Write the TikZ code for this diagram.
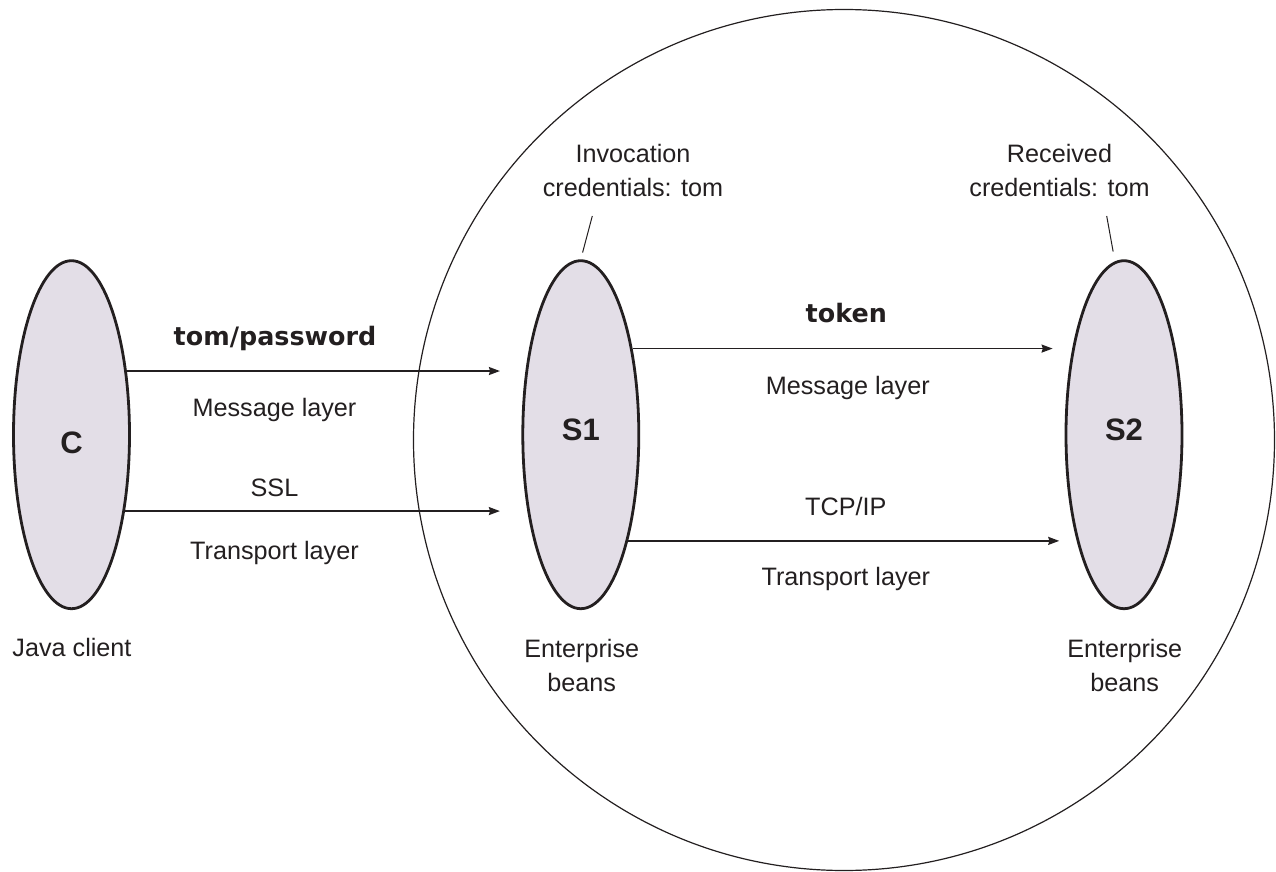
\documentclass[tikz,border=0pt]{standalone}
\usepackage{fontspec}
\setmainfont{Liberation Sans}
\newfontfamily\heavy{DejaVu Sans}
\usetikzlibrary{shapes.geometric,arrows.meta}
\definecolor{ink}{RGB}{35,31,32}
\definecolor{beanfill}{RGB}{227,222,231}

\begin{document}
\begin{tikzpicture}
[x=0.5pt,y=-0.5pt,every node/.style={text=ink,inner sep=0pt},
bean/.style={ellipse,draw=ink,fill=beanfill,line width=1.4pt,minimum width=58pt,minimum height=174pt,font=\fontsize{15.5}{18}\selectfont\bfseries,text height=6pt,text depth=0pt},
txt/.style={font=\fontsize{12.6}{17}\selectfont,anchor=base},
two/.style={font=\fontsize{12.6}{17}\selectfont,align=center,anchor=north},
heavytxt/.style={font=\fontsize{12.7}{15}\heavy\bfseries,anchor=base},
flow/.style={draw=ink,line width=0.8pt,-{Stealth[length=5.5pt,width=4pt,inset=0.6pt]}},
pointer/.style={draw=ink,line width=0.5pt}]
\useasboundingbox (0,0) rectangle (1276,872);
\node[draw=ink,line width=0.6pt,circle,minimum size=430.5pt] (zone) at (844,440) {};
\node[bean,text height=18.3pt] (c) at (71.5,434.7) {C};
\node[bean] (s1) at (580.8,434.7) {S1};
\node[bean] (s2) at (1124,434.7) {S2};
\node[heavytxt] (pwd) at (275,345) {tom/password};
\node[txt] (msgA) at (274.5,416.7) {Message layer};
\node[txt] (ssl) at (274.5,496.7) {SSL};
\node[txt] (trA) at (274.5,559.3) {Transport layer};
\node[txt] (java) at (72,656.7) {Java client};
\node[heavytxt] (tok) at (846.3,322.3) {token};
\node[txt] (msgB) at (847.8,394) {Message layer};
\node[txt] (tcp) at (845.8,515.7) {TCP/IP};
\node[txt] (trB) at (845.8,585) {Transport layer};
\node[two] (inv) at (633,144.3) {Invocation\\credentials: tom};
\node[two] (rec) at (1059.5,143.7) {Received\\credentials: tom};
\node[two] (ebA) at (581.7,639.3) {Enterprise\\beans};
\node[two] (ebB) at (1124.7,639.3) {Enterprise\\beans};
\coordinate (invtip) at (592.3,216);
\coordinate (rectip) at (1106.7,216);
\draw[pointer,shorten <=3.5pt] (s1.north) -- (invtip);
\draw[pointer,shorten <=5pt] (s2.93) -- (rectip);
\foreach \from/\to/\gap in {c.49/s1/10.75pt,c.-55.6/s1/10.75pt,s1.59/s2/6pt,s1.-66.3/s2/2.7pt}
\draw[flow,shorten >=\gap] (\from) -- (\from -| \to.west);
\end{tikzpicture}
\end{document}
